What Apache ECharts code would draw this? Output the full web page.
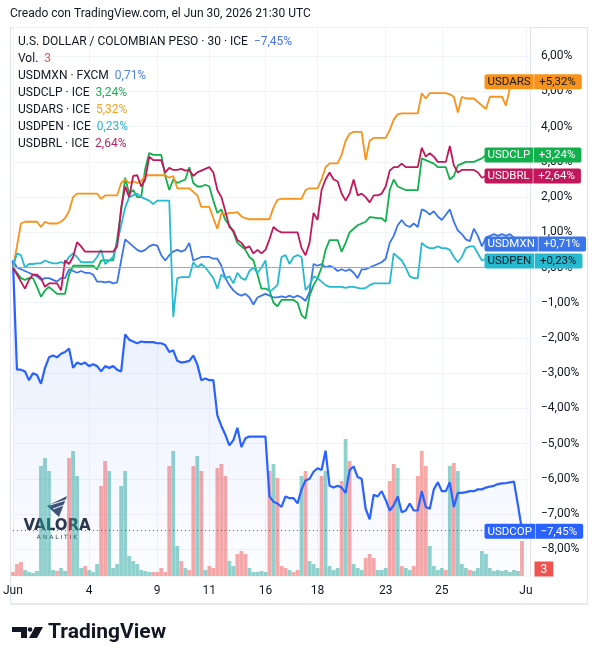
<!DOCTYPE html>
<html>
<head>
<meta charset="utf-8">
<script src="https://cdn.jsdelivr.net/npm/echarts@6/dist/echarts.min.js"></script>
<style>
  html, body { margin: 0; padding: 0; background: #fff; }
  #chart { width: 598px; height: 664px; }
</style>
</head>
<body>
<div id="chart"></div>
<script>
// eje x: barras de ~media hora, dias marcados
var nCat = 130;
var tickIdx = [0, 19, 36, 49, 63, 76, 93, 107, 128];
var tickText = ['Jun', '4', '9', '11', '16', '18', '23', '25', 'Ju'];

// variacion % desde el inicio
var usdcop = [0.2, -2.9, -2.9, -2.95, -3.2, -3.0, -3.05, -3.3, -2.85, -2.55,
  -2.5, -2.55, -2.45, -2.4, -2.3, -2.85, -2.7, -2.75, -2.7, -2.8,
  -2.75, -2.8, -2.95, -2.8, -2.85, -2.8, -2.9, -2.95, -1.9, -2.05,
  -2.1, -2.15, -2.1, -2.12, -2.12, -2.12, -2.15, -2.15, -2.2, -2.4,
  -2.35, -2.65, -2.7, -2.68, -2.65, -2.5, -2.75, -3.2, -3.15, -3.2,
  -3.2, -4.2, -4.5, -4.75, -5.05, -4.9, -4.55, -5.1, -4.85, -4.8,
  -4.8, -4.8, -4.8, -4.8, -6.5, -6.65, -6.7, -6.8, -6.5, -6.55,
  -6.55, -6.7, -6.3, -6.05, -6.0, -5.8, -5.7, -5.75, -5.2, -6.2,
  -6.25, -6.2, -6.25, -6.4, -5.75, -5.65, -5.95, -6.0, -6.85, -7.15,
  -6.45, -6.5, -6.35, -6.6, -6.9, -6.75, -6.5, -6.95, -6.9, -6.7,
  -6.9, -6.9, -6.35, -6.8, -6.85, -6.3, -6.1, -6.35, -6.35, -6.1,
  -6.8, -6.4, -6.4, -6.38, -6.35, -6.35, -6.3, -6.3, -6.25, -6.22,
  -6.2, -6.15, -6.13, -6.12, -6.1, -6.08, -6.75, -7.45];

var usdmxn = [0.2, 0.0, -0.05, -0.1, -0.15, -0.2, -0.25, -0.35, -0.3, -0.3,
  -0.35, -0.4, -0.3, -0.3, -0.05, -0.1, -0.15, -0.1, -0.15, -0.15,
  -0.2, -0.4, -0.4, -0.42, -0.4, -0.45, -0.42, 0.2, 0.8, 0.7,
  0.6, 0.5, 0.45, 0.5, 0.6, 0.65, 0.62, 0.35, 0.2, 0.35,
  0.45, 0.5, 0.45, 0.5, 0.7, 0.2, 0.25, 0.3, 0.3, 0.3,
  0.25, 0.25, 0.05, -0.3, -0.5, -0.65, -0.75, -0.8, -0.75, -0.85,
  -1.05, -0.85, -0.8, -0.75, -0.8, -0.85, -0.85, -0.82, -0.85, -0.8,
  -0.85, -0.8, -0.85, -0.95, -0.7, 0.1, 0.05, 0.1, 0.0, 0.05,
  0.0, -0.1, -0.05, -0.1, -0.05, -0.15, -0.3, -0.05, -0.05, 0.0,
  0.05, 0.1, 0.15, 0.25, 0.7, 0.9, 1.2, 1.35, 1.2, 1.15,
  1.25, 1.15, 1.65, 1.6, 1.5, 1.6, 1.45, 1.35, 1.5, 1.65,
  1.3, 1.05, 0.95, 0.8, 0.75, 1.1, 0.9, 0.6, 0.85, 0.9,
  0.95, 0.9, 0.95, 0.9, 0.95, 0.85, 0.71];

var usdclp = [0.0, -0.15, -0.3, -0.35, -0.3, -0.3, -0.55, -0.83, -0.65, -0.55,
  -0.65, -0.75, -0.75, -0.75, -0.2, 0.05, 0.05, 0.05, 0.05, 0.05,
  0.05, -0.05, 0.2, 0.2, 0.2, 0.2, 0.8, 1.6, 2.55, 2.1,
  2.2, 2.0, 2.0, 2.8, 3.25, 3.2, 3.2, 3.2, 2.6, 2.2,
  2.5, 2.4, 2.45, 2.5, 2.85, 2.4, 2.3, 2.3, 2.35, 2.3,
  1.9, 1.55, 1.65, 1.35, 1.2, 1.0, 0.7, 0.6, 0.5, 0.3,
  0.2, -0.2, -0.6, -0.6, -0.65, -1.0, -1.1, -0.92, -0.92, -0.92,
  -0.92, -1.0, -1.35, -1.45, -0.8, -0.5, -0.3, 0.0, 0.5, 0.78,
  0.78, 0.78, 0.45, 0.7, 1.0, 1.1, 1.2, 1.25, 1.3, 1.43,
  1.42, 1.4, 1.4, 1.3, 2.2, 2.5, 2.3, 2.25, 2.2, 2.2,
  2.2, 2.2, 3.1, 3.05, 3.0, 2.95, 2.85, 2.85, 2.85, 2.5,
  2.6, 2.9, 2.95, 3.0, 3.0, 3.0, 3.05, 3.1, 3.2, 3.25,
  3.2, 3.3, 3.25, 3.2, 3.25, 3.2, 3.24];

var usdars = [0.0, 0.6, 1.25, 1.3, 1.3, 1.3, 1.3, 1.15, 1.3, 1.25,
  1.25, 1.25, 1.3, 1.4, 1.6, 2.0, 2.1, 2.1, 2.1, 2.1,
  2.1, 2.1, 1.95, 2.05, 2.05, 2.05, 2.05, 2.4, 2.5, 2.4,
  2.45, 2.4, 2.45, 2.62, 2.62, 2.62, 2.62, 2.62, 2.62, 2.55,
  2.6, 2.25, 2.25, 2.25, 2.25, 2.15, 2.05, 1.72, 1.72, 1.72,
  1.4, 1.1, 1.55, 1.5, 1.55, 1.55, 1.57, 1.45, 1.4, 1.37,
  1.37, 1.37, 1.37, 1.37, 1.37, 1.7, 1.92, 1.95, 1.95, 1.95,
  1.95, 1.95, 1.95, 2.2, 2.25, 2.25, 2.25, 2.5, 2.85, 2.96,
  2.96, 2.96, 3.2, 3.6, 3.8, 3.85, 3.85, 3.85, 3.05, 3.6,
  3.68, 3.68, 3.68, 3.68, 3.9, 4.2, 4.35, 4.38, 4.38, 4.38,
  4.38, 4.38, 4.95, 4.8, 4.95, 4.95, 4.95, 4.95, 4.95, 4.92,
  4.85, 4.4, 4.85, 4.8, 4.8, 4.8, 4.7, 4.6, 4.5, 4.85,
  4.85, 4.85, 4.85, 4.6, 5.1, 5.25, 5.32];

var usdpen = [0.0, 0.4, 0.35, 0.0, 0.1, 0.1, 0.12, 0.12, 0.2, 0.15,
  0.12, 0.12, 0.15, 0.12, 0.3, 0.4, 0.3, 0.15, 0.15, 0.15,
  0.15, 0.3, 0.5, 0.1, 0.2, 0.3, 0.7, 1.2, 1.7, 2.0,
  2.05, 2.1, 2.0, 1.95, 1.9, 1.8, 1.9, 1.9, 1.9, 1.9,
  -1.4, -0.3, -0.27, -0.27, -0.27, 0.15, 0.0, 0.1, 0.0, -0.15,
  -0.3, -0.6, -0.2, -0.3, -0.25, -0.45, -0.15, -0.3, -0.35, -0.1,
  0.0, -0.15, 0.0, 0.2, -0.7, -0.6, -0.5, 0.3, 0.35, 0.1,
  0.3, 0.35, 0.3, -0.64, -0.5, -0.25, -0.3, -0.4, -0.5, -0.55,
  -0.55, -0.55, -0.55, -0.58, -0.55, -0.55, -0.58, -0.6, -0.58, -0.5,
  -0.45, -0.45, -0.45, -0.45, -0.45, 0.4, 0.3, 0.2, 0.0, -0.25,
  -0.3, -0.3, 0.7, 0.6, 0.55, 0.55, 0.6, 0.55, 0.55, 0.5,
  0.3, 0.15, 0.3, 0.55, 0.6, 0.6, 0.4, 0.2, 0.25, 0.3,
  0.25, 0.3, 0.25, 0.3, 0.25, 0.25, 0.23];

var usdbrl = [0.0, -0.2, -0.4, -0.6, -0.35, -0.2, -0.2, -0.3, -0.55, -0.45,
  -0.45, -0.45, -0.65, 0.2, 0.1, 0.3, 0.72, 0.6, 0.45, 0.45,
  0.45, 0.45, 0.45, 0.45, 0.45, 0.45, 0.6, 1.7, 2.3, 2.0,
  2.6, 2.62, 2.3, 2.5, 3.15, 3.05, 3.05, 3.05, 2.7, 2.83,
  2.77, 2.77, 2.8, 2.75, 2.77, 2.6, 2.7, 2.75, 2.8, 2.85,
  2.7, 2.2, 2.0, 1.6, 1.15, 1.05, 0.78, 0.7, 0.55, 0.6,
  0.4, 0.5, 0.4, 0.5, 0.8, 1.15, 1.05, 1.0, 1.0, 1.0,
  1.0, 1.0, 0.55, 0.35, 0.7, 1.55, 1.35, 2.2, 2.5, 2.7,
  2.5, 2.45, 2.1, 1.9, 2.1, 2.5, 2.05, 2.1, 2.0, 1.85,
  2.05, 2.05, 2.1, 2.3, 2.75, 2.85, 2.85, 2.95, 2.85, 2.85,
  2.85, 2.85, 3.4, 3.15, 3.25, 3.15, 3.0, 3.0, 3.0, 3.45,
  2.9, 2.7, 2.77, 2.77, 2.77, 2.77, 2.7, 2.55, 2.6, 2.65,
  2.6, 2.65, 2.6, 2.65, 2.6, 2.65, 2.64];

// volumen USDCOP (escala relativa) y sentido de la barra
var volume = [4, 12, 14, 6, 4, 3, 5, 110, 118, 105,
  6, 5, 8, 5, 118, 125, 100, 8, 10, 6,
  4, 12, 90, 115, 105, 8, 12, 90, 105, 20,
  15, 12, 6, 5, 4, 4, 4, 8, 4, 110,
  125, 30, 15, 8, 6, 110, 120, 105, 6, 10,
  8, 108, 112, 100, 15, 10, 22, 25, 22, 8,
  4, 4, 5, 4, 105, 112, 98, 10, 8, 6,
  4, 6, 100, 105, 15, 12, 8, 100, 105, 10,
  6, 8, 95, 137, 115, 12, 8, 6, 18, 22,
  18, 6, 6, 8, 95, 112, 108, 10, 8, 6,
  10, 100, 125, 110, 30, 10, 6, 8, 6, 110,
  113, 105, 12, 8, 6, 5, 8, 25, 22, 8,
  5, 6, 5, 6, 4, 6, 5, 35];
var volDir = 'ddduuuuuuu' + 'uduuduuudu' + 'uudduuuuuu' + 'uuuuuddddd' + 'uududdudud' +
  'dddduudddu' + 'uuuududddu' + 'dduduuuduu' + 'uududuuudd' + 'duuudduduu' +
  'dddduuuudu' + 'duuuduuuuu' + 'uuuuuuud';
var volLast = 3;

var cCop = '#2962FF', cMxn = '#3A75EA', cClp = '#12B04C', cArs = '#F7931A',
    cPen = '#26BAD0', cBrl = '#C2185B', ink = '#131722';

function fmt(v, plus) {
  var s = Math.abs(v).toFixed(2).replace('.', ',') + '%';
  if (v < 0) return '\u2212' + s;
  return (plus ? '+' : '') + s;
}
function last(a) { return a[a.length - 1]; }

var cats = [];
var labelAt = {};
for (var i = 0; i < nCat; i++) cats.push(String(i));
tickIdx.forEach(function (k, j) { labelAt[k] = tickText[j]; });
function isTick(idx) { return labelAt[idx] !== undefined; }

var volData = volume.map(function (v, i) {
  return { value: v, itemStyle: { color: volDir[i] === 'u' ? 'rgba(38,166,154,0.5)' : 'rgba(239,83,80,0.5)' } };
});

function tag(name, v, bg, fg) {
  return {
    symbol: 'rect', symbolSize: 1, silent: true,
    itemStyle: { color: 'rgba(0,0,0,0)' },
    data: [{ coord: [nCat - 1, v] }],
    label: {
      show: true, position: 'right', distance: 0, offset: [-46, 1.5],
      formatter: '{n|' + name + '}{s| }{v|' + fmt(v, true) + '}',
      rich: {
        n: { backgroundColor: bg, color: fg, fontSize: 11.5, fontFamily: 'Roboto', padding: [2, 3, 1, 3], lineHeight: 12, borderRadius: [2, 0, 0, 2] },
        s: { fontSize: 2, padding: 0 },
        v: { backgroundColor: bg, color: fg, fontSize: 11.5, fontFamily: 'Roboto', padding: [2, 6, 1, 5], lineHeight: 12, borderRadius: [0, 2, 2, 0] }
      }
    }
  };
}

function line(name, data, color, width) {
  return {
    name: name, type: 'line', data: data, symbol: 'none', showSymbol: false,
    lineStyle: { color: color, width: width }, itemStyle: { color: color },
    markPoint: tag(name, last(data), color, (color === cArs || color === cPen) ? ink : '#fff')
  };
}

var chart = echarts.init(document.getElementById('chart'));

var legendRich = {
  a: { fill: ink, font: '12px Roboto' },
  cop: { fill: '#4a73e8', font: '12px Roboto' },
  vol: { fill: '#e5534f', font: '12px Roboto' },
  mxn: { fill: '#4f82ea', font: '12px Roboto' },
  clp: { fill: '#1fae55', font: '12px Roboto' },
  ars: { fill: '#f5a21f', font: '12px Roboto' },
  pen: { fill: '#2cb6cc', font: '12px Roboto' },
  brl: { fill: '#b82665', font: '12px Roboto' }
};
var legendLines = [
  '{a|U.S. DOLLAR / COLOMBIAN PESO \u00b7 30 \u00b7 ICE  }{cop|' + fmt(last(usdcop)) + '}',
  '{a|Vol.  }{vol|' + volLast + '}',
  '{a|USDMXN \u00b7 FXCM  }{mxn|' + fmt(last(usdmxn)) + '}',
  '{a|USDCLP \u00b7 ICE  }{clp|' + fmt(last(usdclp)) + '}',
  '{a|USDARS \u00b7 ICE  }{ars|' + fmt(last(usdars)) + '}',
  '{a|USDPEN \u00b7 ICE  }{pen|' + fmt(last(usdpen)) + '}',
  '{a|USDBRL \u00b7 ICE  }{brl|' + fmt(last(usdbrl)) + '}'
];

var graphics = [
  { type: 'rect', shape: { x: 10.5, y: 27.5, width: 577, height: 576 }, style: { fill: 'none', stroke: '#e0e3eb', lineWidth: 1 }, z: -10 },
  { type: 'line', shape: { x1: 10, y1: 604, x2: 588, y2: 604 }, style: { stroke: '#e6e8ee', lineWidth: 2 } },
  { type: 'text', x: 10, y: 14, style: { text: 'Creado con TradingView.com, el Jun 30, 2026 21:30 UTC', fill: ink, font: '12px Roboto', textVerticalAlign: 'middle' } },
  // Valora Analitik
  { type: 'polygon', shape: { points: [[47, 506], [67, 496], [59, 517]] }, style: { fill: '#3f5473' }, z: 1 },
  { type: 'line', shape: { x1: 50, y1: 505, x2: 66, y2: 500 }, style: { stroke: '#fff', lineWidth: 1 }, z: 2 },
  { type: 'line', shape: { x1: 53, y1: 509, x2: 64, y2: 505 }, style: { stroke: '#fff', lineWidth: 1 }, z: 2 },
  { type: 'text', x: 57, y: 526, style: { text: 'VALORA', fill: '#2b3447', font: 'bold 15px "DejaVu Sans"', textAlign: 'center', textVerticalAlign: 'middle' }, z: 1 },
  { type: 'text', x: 57, y: 537, style: { text: 'A N A L I T I K', fill: '#2b3447', font: '6px "DejaVu Sans"', textAlign: 'center', textVerticalAlign: 'middle' }, z: 1 },
  // TradingView
  { type: 'polygon', shape: { points: [[12, 627], [27, 627], [27, 638], [21, 638], [21, 632], [12, 632]] }, style: { fill: ink } },
  { type: 'circle', shape: { cx: 30, cy: 629.5, r: 2.3 }, style: { fill: ink } },
  { type: 'polygon', shape: { points: [[35, 627], [43, 627], [37, 638], [29, 638]] }, style: { fill: ink } },
  { type: 'text', x: 48, y: 633, style: { text: 'TradingView', fill: ink, font: 'bold 21px Roboto', textVerticalAlign: 'middle' } }
];
legendLines.forEach(function (t, k) {
  graphics.push({ type: 'text', x: 18, y: 42 + k * 17, z: 5, style: { text: t, rich: legendRich, textVerticalAlign: 'middle', font: '12px Roboto', fill: ink } });
});

var copLine = line('USDCOP', usdcop, cCop, 2.2);
copLine.markLine = {
  silent: true, symbol: ['none', 'none'], label: { show: false },
  data: [
    { yAxis: 0, lineStyle: { color: '#a3a6af', type: 'solid', width: 1 } },
    { yAxis: last(usdcop), lineStyle: { color: '#555', type: [1, 3], width: 1 } }
  ]
};

chart.setOption({
  animation: false,
  backgroundColor: '#fff',
  grid: { left: 11, right: 68, top: 27, bottom: 88 },
  xAxis: {
    type: 'category', data: cats, boundaryGap: false,
    axisTick: { show: false },
    axisLine: { lineStyle: { color: '#e0e3eb' } },
    axisLabel: {
      interval: function (idx) { return isTick(idx); },
      formatter: function (v, idx) { return labelAt[idx] || ''; },
      color: ink, fontSize: 12, fontFamily: 'Roboto', margin: 9
    },
    splitLine: { show: true, interval: function (idx) { return isTick(idx); }, lineStyle: { color: '#f0f3fa' } }
  },
  yAxis: [{
    type: 'value', position: 'right', min: -8.76, max: 6.83,
    splitNumber: 15, minInterval: 1, maxInterval: 1,
    axisLine: { show: true, lineStyle: { color: '#e0e3eb' } },
    axisTick: { show: false },
    axisLabel: {
      color: ink, fontSize: 12, fontFamily: 'Roboto', margin: 11,
      formatter: function (v) {
        if (Math.abs(v - Math.round(v)) > 1e-6) return '';
        return fmt(Math.round(v), false);
      }
    },
    splitLine: { lineStyle: { color: '#f0f3fa' } }
  }, {
    type: 'value', min: 0, max: 549, show: false
  }],
  graphic: { elements: graphics },
  series: [
    {
      name: 'USDCOP area', type: 'line', data: usdcop, symbol: 'none', silent: true,
      lineStyle: { width: 0 },
      areaStyle: {
        origin: 'start',
        color: new echarts.graphic.LinearGradient(0, 0, 0, 1, [
          { offset: 0, color: 'rgba(41,98,255,0.16)' },
          { offset: 1, color: 'rgba(41,98,255,0.02)' }
        ])
      }
    },
    {
      name: 'Vol', type: 'bar', yAxisIndex: 1, data: volData, barCategoryGap: '5%',
      markPoint: {
        symbol: 'rect', symbolSize: 1, silent: true, itemStyle: { color: 'rgba(0,0,0,0)' },
        data: [{ coord: [nCat - 1, 0] }],
        label: {
          show: true, position: 'right', distance: 0, offset: [4, -7],
          formatter: '{b|' + volLast + '}',
          rich: { b: { backgroundColor: '#ef5350', color: '#fff', fontSize: 12, fontFamily: 'Roboto', padding: [2, 6, 1, 6], lineHeight: 12 } }
        }
      }
    },
    copLine,
    line('USDMXN', usdmxn, cMxn, 1.8),
    line('USDCLP', usdclp, cClp, 1.8),
    line('USDARS', usdars, cArs, 1.8),
    line('USDPEN', usdpen, cPen, 1.8),
    line('USDBRL', usdbrl, cBrl, 1.8)
  ]
});
</script>
</body>
</html>
